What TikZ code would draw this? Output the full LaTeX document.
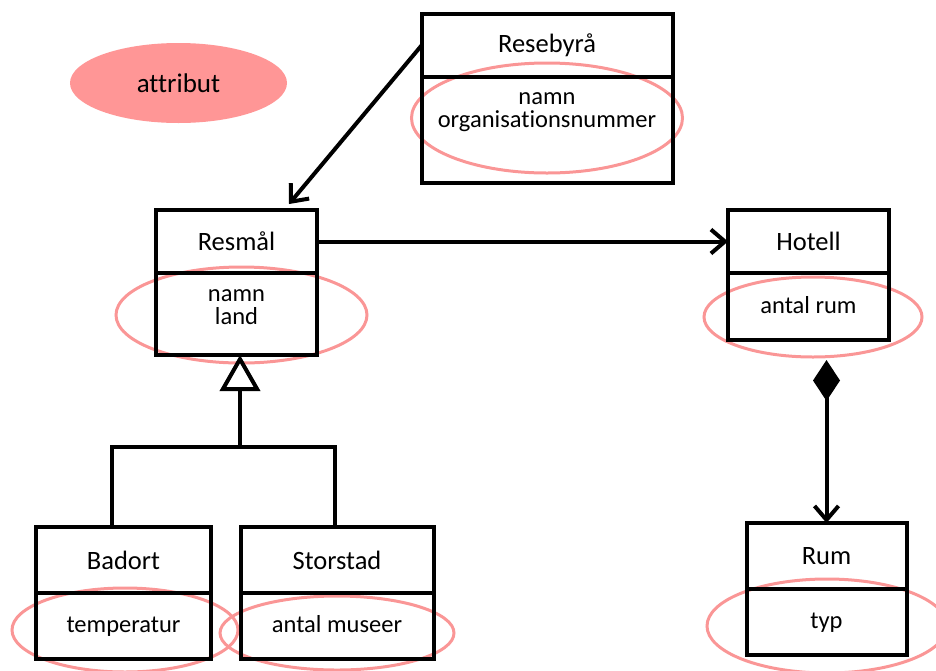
\documentclass[tikz,border=0pt]{standalone}
\usepackage{fontspec}
\setmainfont{Carlito}[Ligatures=NoCommon]
\usetikzlibrary{arrows.meta,shapes.geometric}
\definecolor{attrline}{RGB}{250,150,150}
\definecolor{attrfill}{RGB}{255,150,150}
\begin{document}
\begin{tikzpicture}[x=1pt,y=-1pt,
  box/.style={draw, line width=4pt, outer sep=0pt, inner sep=0pt, anchor=north west,
    font=\fontsize{26.5}{30}\selectfont},
  attrbox/.style={box, font=\fontsize{24.5}{23}\selectfont, text height=18pt, text depth=4.6pt},
  attrtext/.style={align=center, inner sep=0pt, anchor=north,
    font=\fontsize{24.5}{23}\selectfont},
  attroval/.style={ellipse, draw=attrline, line width=3pt, inner sep=0pt},
  conn/.style={draw, line width=4pt},
  barb/.style={-{Straight Barb[length=14pt,width=24pt]}}
]
\useasboundingbox (0,0) rectangle (936,670);

% legend oval
\node[ellipse, fill=attrfill, inner sep=0pt, minimum width=217pt, minimum height=80pt,
  font=\fontsize{27}{30}\selectfont] (legend) at (178.5,83) {attribut};

% attribute ovals, drawn under the class boxes
\node[attroval, minimum width=271pt, minimum height=110pt] (byraO) at (547,118) {};
\node[attroval, minimum width=251pt, minimum height=96pt] (resmalO) at (241.5,315) {};
\node[attroval, minimum width=218pt, minimum height=80pt] (hotellO) at (813,317) {};
\node[attroval, minimum width=240pt, minimum height=94pt] (rumO) at (827,626) {};
\node[attroval, minimum width=226pt, minimum height=84pt] (badortO) at (125,630) {};
\node[attroval, minimum width=234pt, minimum height=74pt] (storstadO) at (337,633) {};

% class boxes: name compartment and attribute compartment
\node[box, minimum width=251pt, minimum height=63pt] (byraT) at (421.5,14) {Resebyrå};
\node[attrbox, minimum width=251pt, minimum height=106pt] (byraA) at (byraT.south west) {};
\node[attrtext] (byraL) at (547,92) {namn\\organisationsnummer};

\node[box, minimum width=161pt, minimum height=63pt] (resmalT) at (156,210) {Resmål};
\node[attrbox, minimum width=161pt, minimum height=82pt] (resmalA) at (resmalT.south west) {};
\node[attrtext] (resmalL) at (236.5,289) {namn\\land};

\node[box, minimum width=161pt, minimum height=63pt] (hotellT) at (728,210) {Hotell};
\node[attrbox, minimum width=161pt, minimum height=67pt] (hotellA) at (hotellT.south west) {antal rum};

\node[box, minimum width=160pt, minimum height=66pt] (rumT) at (746.5,523) {Rum};
\node[attrbox, minimum width=160pt, minimum height=66pt] (rumA) at (rumT.south west) {typ};

\node[box, minimum width=175pt, minimum height=66pt] (badortT) at (36,527) {Badort};
\node[attrbox, minimum width=175pt, minimum height=66pt] (badortA) at (badortT.south west) {temperatur};

\node[box, minimum width=193pt, minimum height=66pt] (storstadT) at (240.5,527) {Storstad};
\node[attrbox, minimum width=193pt, minimum height=66pt] (storstadA) at (storstadT.south west) {antal museer};

% associations
\coordinate (resmalTip) at (289,204);
\draw[conn, barb] (byraT.west) -- (resmalTip);
\draw[conn, barb] (resmalT.east) -- (hotellT.west);

% generalization
\coordinate (genJ) at (240,447);
\coordinate (genL) at (112,447);
\coordinate (genR) at (335,447);
\draw[conn, -{Triangle[open, length=36pt, width=40pt, fill=white]}] (genJ) -- (genJ |- resmalA.south);
\draw[conn] (genL |- badortT.north) -- (genL) -- (genR) -- (genR |- storstadT.north);

% composition
\coordinate (compTop) at (826.5,360);
\draw[conn, {Diamond[length=41pt,width=27pt]}-{Straight Barb[length=14pt,width=24pt]}]
  (compTop) -- (compTop |- rumT.north);
\end{tikzpicture}
\end{document}
